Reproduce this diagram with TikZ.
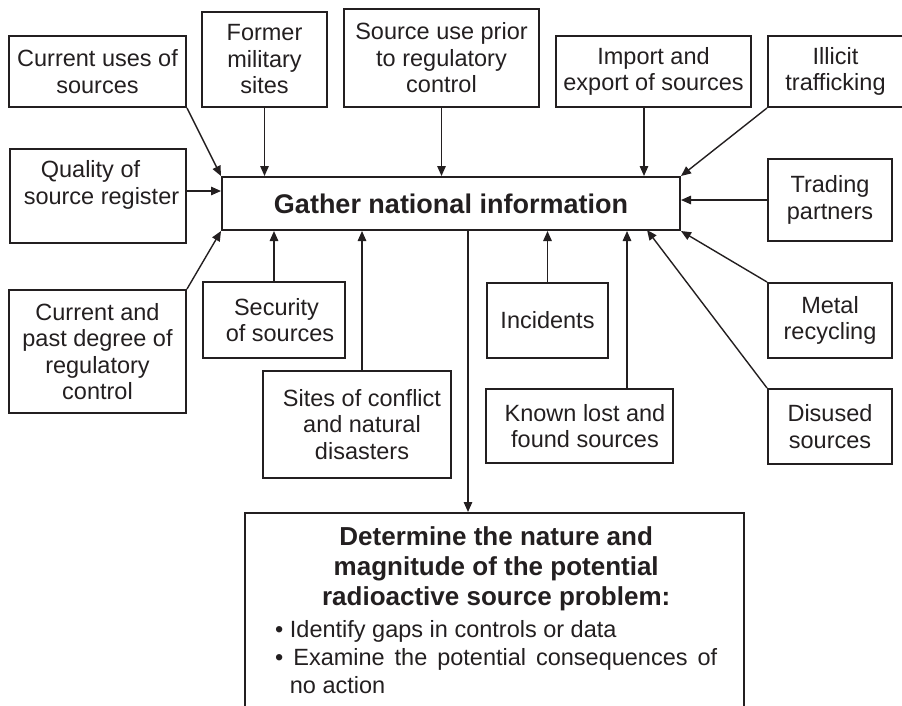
\documentclass[tikz,border=0pt]{standalone}
\usepackage{fontspec}
\setmainfont{Liberation Sans}
\usetikzlibrary{arrows.meta,calc}
\definecolor{ink}{RGB}{35,31,32}
\begin{document}
\begin{tikzpicture}[x=1pt,y=-1pt,
  box/.style={draw=ink, line width=2pt, inner sep=0pt, align=center, text=ink,
    font=\fontsize{23.5}{26.5}\selectfont},
  txt/.style={inner sep=0pt, align=center, text=ink, font=\fontsize{23.5}{26.5}\selectfont},
  conn/.style={draw=ink, line width=1.4pt, -{Triangle[length=10pt,width=8.5pt]}}]
\useasboundingbox (0,0) rectangle (902,705);

% top row
\node[box, minimum width=177pt, minimum height=71pt] (cu) at (97.5,71.5) {Current uses of\\sources};
\node[box, minimum width=125pt, minimum height=95pt] (fm) at (264.5,59.5) {Former\\military\\sites};
\node[box, minimum width=195pt, minimum height=98pt] (su) at (441.5,58) {Source use prior\\to regulatory\\control};
\node[box, minimum width=195pt, minimum height=71pt] (ie) at (653.5,71.5) {Import and\\export of sources};
\node[box, minimum width=135pt, minimum height=71pt] (il) at (835.5,71.5) {Illicit\\trafficking};

% middle row
\node[box, minimum width=176pt, minimum height=94pt] (qs) at (98,196) {};
\node[txt] (qst) at (98,185) {\hspace*{-15pt}Quality of\\\hspace*{7pt}source register};
\node[box, minimum width=458pt, minimum height=53pt,
  font=\bfseries\fontsize{27}{30}\selectfont] (g) at (451,203.5) {Gather national information};
\node[box, minimum width=124pt, minimum height=82pt] (tp) at (830,200) {Trading\\partners};

% lower boxes
\node[box, minimum width=177pt, minimum height=123pt] (cp) at (97.5,351.5) {Current and\\past degree of\\regulatory\\control};
\node[box, minimum width=142pt, minimum height=76pt] (sec) at (274,320) {\hspace*{5pt}Security\\\hspace*{12pt}of sources};
\node[box, minimum width=188pt, minimum height=107pt] (si) at (357,424.5) {\hspace*{10pt}Sites of conflict\\\hspace*{10pt}and natural\\\hspace*{10pt}disasters};
\node[box, minimum width=121pt, minimum height=75pt] (inc) at (547.5,320.5) {Incidents};
\node[box, minimum width=187pt, minimum height=74pt] (kl) at (579.5,426) {\hspace*{11pt}Known lost and\\\hspace*{11pt}found sources};
\node[box, minimum width=124pt, minimum height=75pt] (mr) at (830,320.5) {Metal\\recycling};
\node[box, minimum width=124pt, minimum height=75pt] (du) at (830,426.5) {Disused\\sources};

% result box
\node[box, minimum width=499pt, minimum height=227pt] (dt) at (494.5,626.5) {};
\node[anchor=north west, inner sep=0pt, text width=442pt, align=justify, text=ink,
  font=\fontsize{23.5}{28}\selectfont] (dtt) at (275,526) {%
  \parindent=0pt\leftskip=0pt\rightskip=0pt\parfillskip=0pt plus 1fil
  \hyphenpenalty=10000\tolerance=9999\emergencystretch=20pt
  {\centering\bfseries\fontsize{26}{30}\selectfont Determine the nature and\\magnitude of the potential\\radioactive source problem:\par}
  \vskip 4pt
  \hangindent=14.7pt\hangafter=1 •\ Identify gaps in controls or data\par
  \hangindent=14.7pt\hangafter=1 •\ Examine the potential consequences of no action\par};

% connectors into the gather box
\draw[conn] (cu.south east) -- (g.north west);
\draw[conn] (fm.south) -- (fm.south |- g.north);
\draw[conn] (su.south) -- (su.south |- g.north);
\coordinate (ieb) at ([xshift=-9.5pt]ie.south);
\draw[conn] (ieb) -- (ieb |- g.north);
\draw[conn] (il.south west) -- (g.north east);
\coordinate (qsr) at ([yshift=5pt]qs.east);
\draw[conn] (qsr) -- (qsr -| g.west);
\draw[conn] (tp.west) -- (tp.west -| g.east);
\draw[conn] (cp.north east) -- (g.south west);
\draw[conn] (sec.north) -- (sec.north |- g.south);
\coordinate (sit) at ([xshift=5pt]si.north);
\draw[conn] (sit) -- (sit |- g.south);
\draw[conn] (inc.north) -- (inc.north |- g.south);
\coordinate (klt) at ([xshift=47.5pt]kl.north);
\draw[conn] (klt) -- (klt |- g.south);
\draw[conn] (mr.north west) -- (g.south east);
\coordinate (dug) at (647,230);
\draw[conn] (du.north west) -- (dug);

% gather -> determine
\coordinate (gb) at ([xshift=17pt]g.south);
\draw[conn] (gb) -- (gb |- dt.north);
\end{tikzpicture}
\end{document}
